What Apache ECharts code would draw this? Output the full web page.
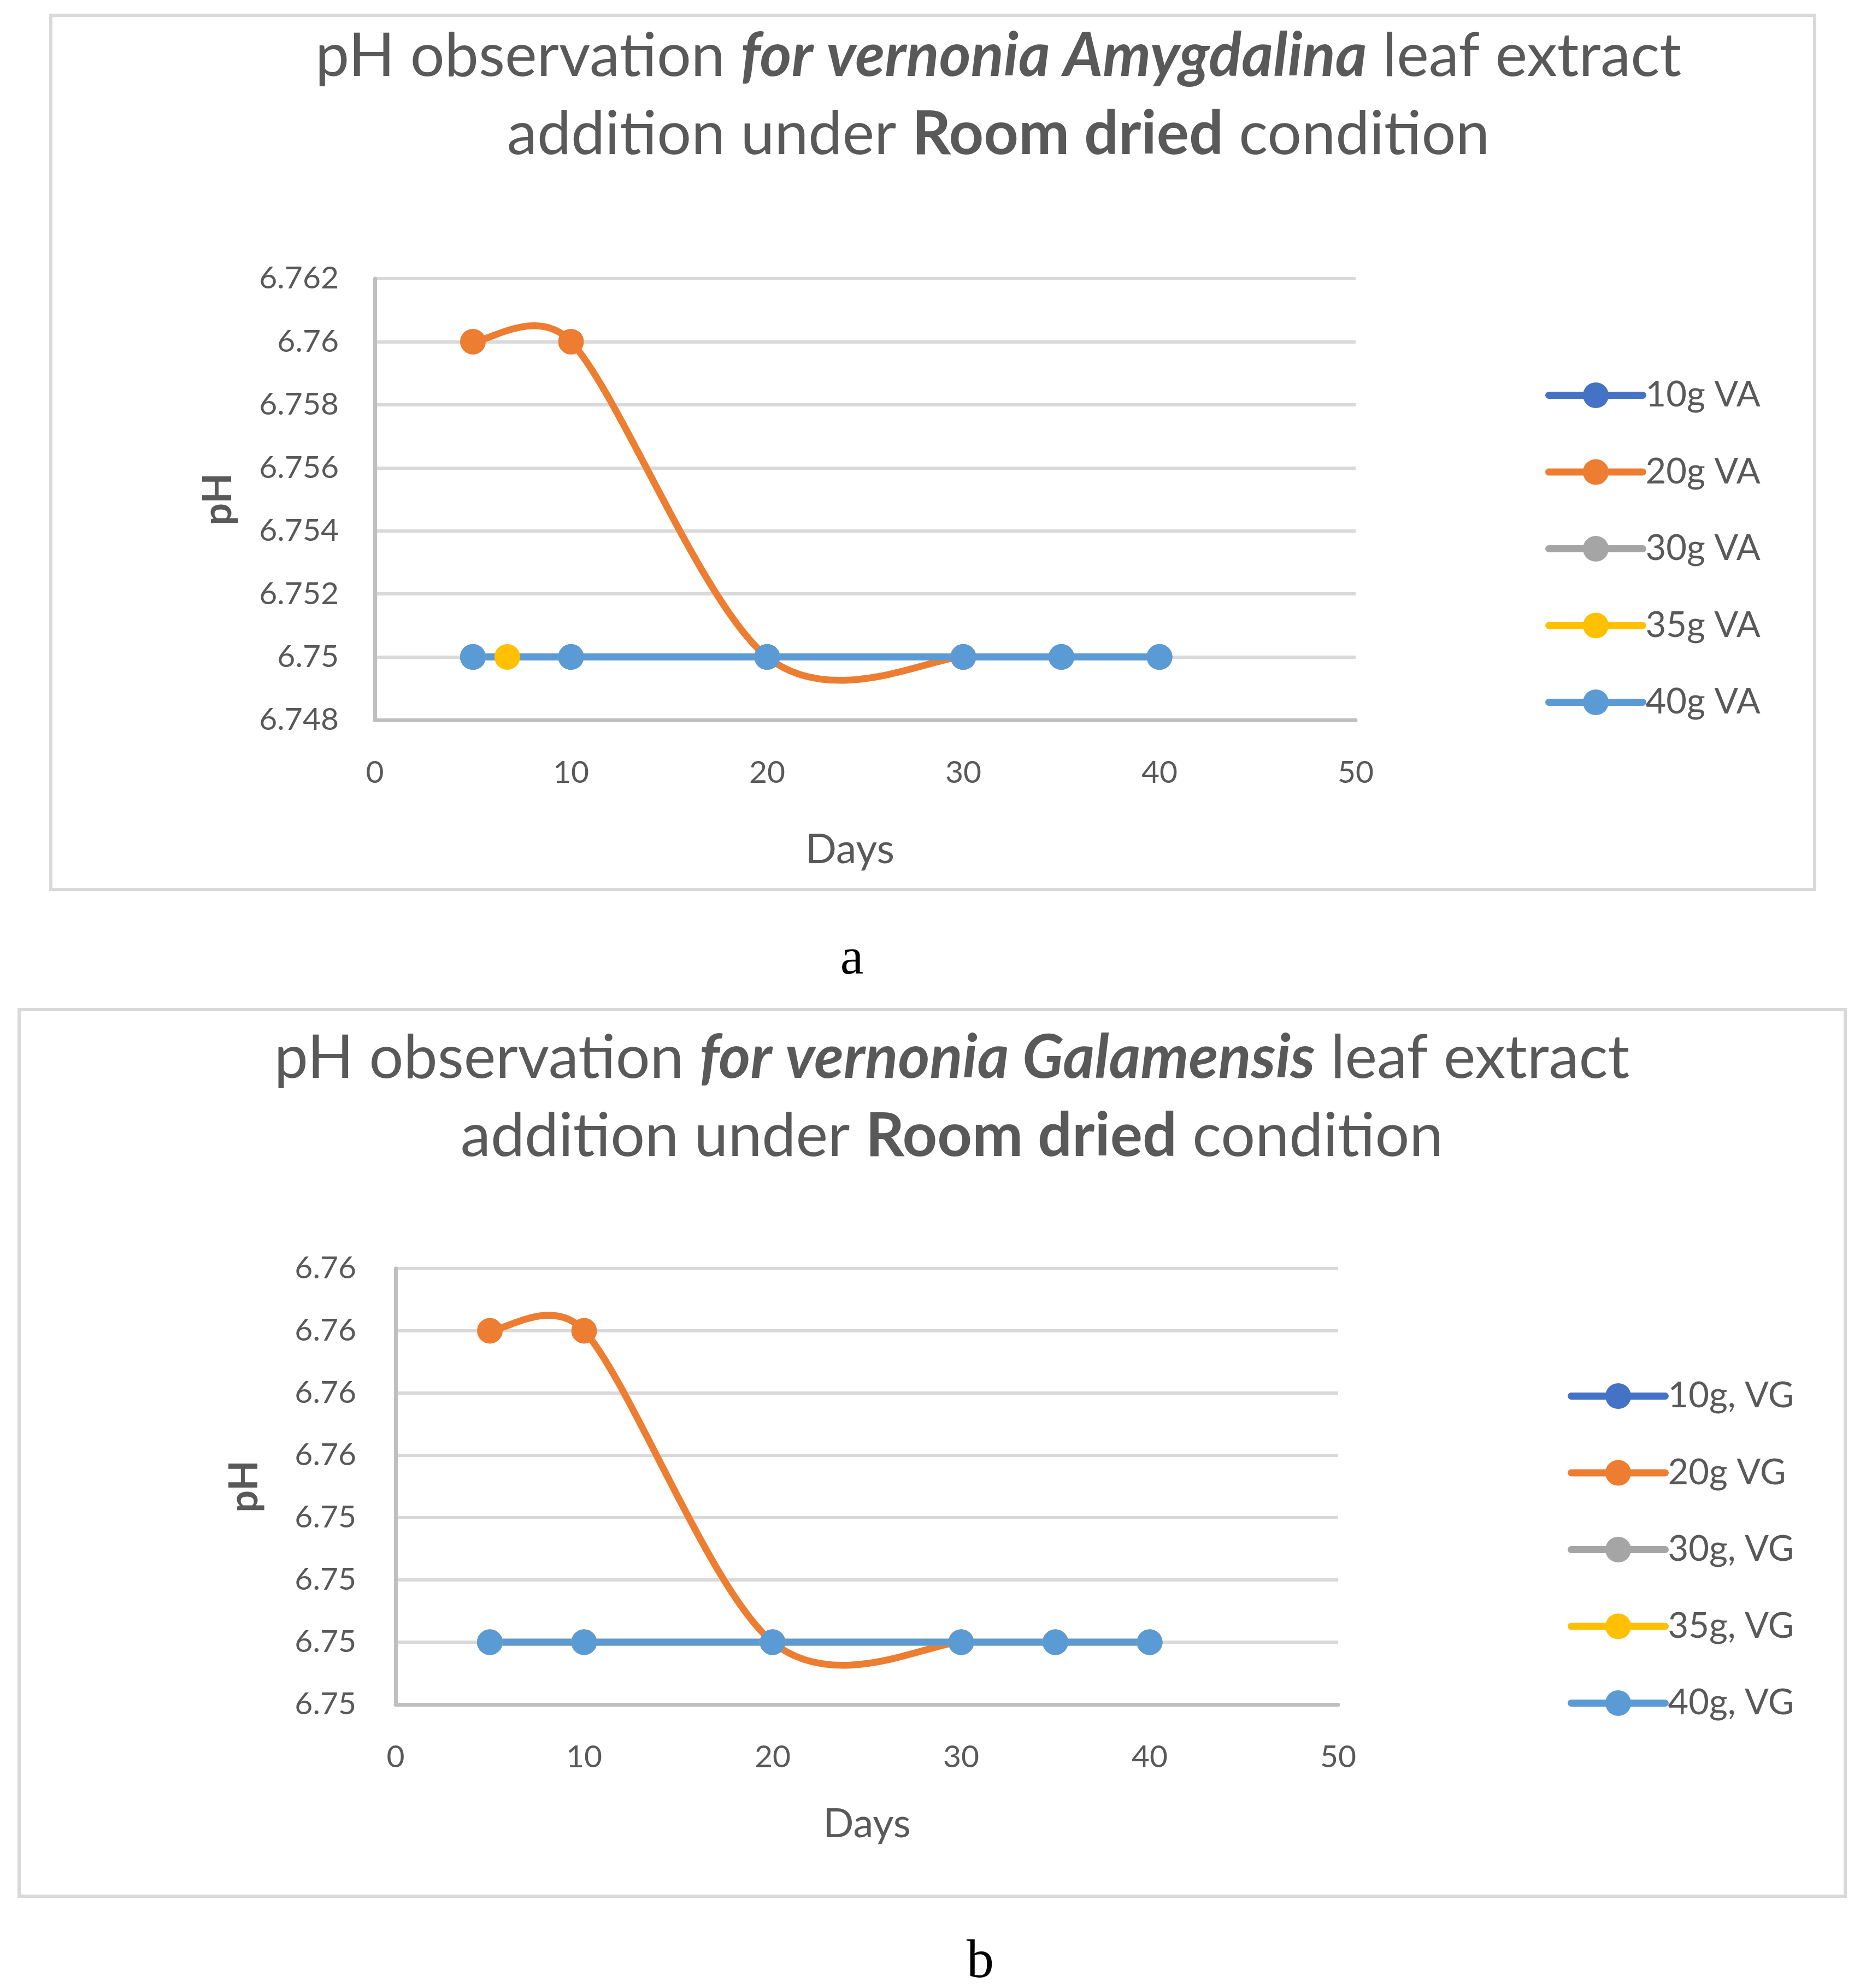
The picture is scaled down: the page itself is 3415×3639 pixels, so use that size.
<!DOCTYPE html>
<html>
<head>
<meta charset="utf-8">
<script src="https://cdn.jsdelivr.net/npm/echarts@6/dist/echarts.min.js"></script>
<style>
html,body{margin:0;padding:0;background:#fff;}
#c{width:3415px;height:3639px;}
</style>
</head>
<body>
<div id="c"></div>
<script>
// ---------- data ----------
const xTicks = [0, 10, 20, 30, 40, 50];
// Chart a: Vernonia Amygdalina
const namesA = ['10g VA', '20g VA', '30g VA', '35g VA', '40g VA'];
const days10A = [5, 10, 20, 30, 35, 40];
const ph10A   = [6.75, 6.75, 6.75, 6.75, 6.75, 6.75];
const days20A = [5, 10, 20, 30];
const ph20A   = [6.76, 6.76, 6.75, 6.75];
const days30A = [5, 10, 20, 30, 35, 40];
const ph30A   = [6.75, 6.75, 6.75, 6.75, 6.75, 6.75];
const days35A = [6.75];
const ph35A   = [6.75];
const days40A = [5, 10, 20, 30, 35, 40];
const ph40A   = [6.75, 6.75, 6.75, 6.75, 6.75, 6.75];
// Chart b: Vernonia Galamensis
const namesB = ['10g, VG', '20g VG', '30g, VG', '35g, VG', '40g, VG'];
const days10B = [5, 10, 20, 30, 35, 40];
const ph10B   = [6.75, 6.75, 6.75, 6.75, 6.75, 6.75];
const days20B = [5, 10, 20, 30];
const ph20B   = [6.76, 6.76, 6.75, 6.75];
const days30B = [5, 10, 20, 30, 35, 40];
const ph30B   = [6.75, 6.75, 6.75, 6.75, 6.75, 6.75];
const days35B = [5, 10, 20, 30, 35, 40];
const ph35B   = [6.75, 6.75, 6.75, 6.75, 6.75, 6.75];
const days40B = [5, 10, 20, 30, 35, 40];
const ph40B   = [6.75, 6.75, 6.75, 6.75, 6.75, 6.75];
const yMin = 6.748, yMax = 6.762, yStep = 0.002;
const colors = ['#4472C4', '#ED7D31', '#A5A5A5', '#FFC000', '#5B9BD5'];

// ---------- helpers ----------
const FONT = 'Lato';
const TXT = '#595959';
const TENSION = 1 / 6;
function pairs(xs, ys) { return xs.map((x, i) => [x, ys[i]]); }
function dist(a, b) { return Math.hypot(b[0] - a[0], b[1] - a[1]); }

// Excel-style smoothed line (Catmull-Rom Bezier) built in pixel space via api.coord
function smoothCurveSeries(name, xs, ys, gi, color) {
  return {
    type: 'custom', name: name + ' curve', xAxisIndex: gi, yAxisIndex: gi,
    data: pairs(xs, ys), encode: { x: 0, y: 1 }, silent: true,
    renderItem: function (params, api) {
      if (params.dataIndex !== 0) return null;
      const pts = xs.map((x, i) => api.coord([x, ys[i]]));
      const n = pts.length;
      let d = 'M' + pts[0][0] + ' ' + pts[0][1];
      for (let i = 0; i < n - 1; i++) {
        const p1 = pts[i], p2 = pts[i + 1];
        const p0 = i > 0 ? pts[i - 1] : p1;
        const p3 = i + 2 < n ? pts[i + 2] : p2;
        const d12 = dist(p1, p2), d02 = dist(p0, p2), d13 = dist(p1, p3);
        let f1 = TENSION, f2 = TENSION;
        if (d02 * f1 > d12 / 2) f1 = d12 / (2 * d02);
        if (d13 * f2 > d12 / 2) f2 = d12 / (2 * d13);
        const c1 = [p1[0] + (p2[0] - p0[0]) * f1, p1[1] + (p2[1] - p0[1]) * f1];
        const c2 = [p2[0] - (p3[0] - p1[0]) * f2, p2[1] - (p3[1] - p1[1]) * f2];
        d += ' C' + c1[0] + ' ' + c1[1] + ' ' + c2[0] + ' ' + c2[1] + ' ' + p2[0] + ' ' + p2[1];
      }
      return { type: 'path', shape: { pathData: d },
        style: { fill: 'none', stroke: color, lineWidth: 12.5, lineCap: 'round', lineJoin: 'round' } };
    }
  };
}
function mkSeries(names, dataSets, gi) {
  const out = [];
  names.forEach((n, i) => {
    const xs = dataSets[i][0], ys = dataSets[i][1];
    if (i === 1) out.push(smoothCurveSeries(n, xs, ys, gi, colors[i]));
    out.push({
      type: 'line', name: n, xAxisIndex: gi, yAxisIndex: gi,
      data: pairs(xs, ys),
      symbol: 'circle', symbolSize: 47,
      lineStyle: { color: colors[i], width: i === 1 ? 0 : 12.5, cap: 'round' },
      itemStyle: { color: colors[i] },
      emphasis: { disabled: true }
    });
  });
  return out;
}
function xAx(gi, nameGap, shift, fs) {
  return {
    type: 'value', gridIndex: gi, min: 0, max: 50, interval: 10,
    name: 'Days', nameLocation: 'middle', nameGap: nameGap,
    nameTextStyle: { fontFamily: FONT, fontSize: fs, color: TXT, padding: [0, shift, 0, 0] },
    axisLine: { show: true, lineStyle: { color: '#BFBFBF', width: 7 } },
    axisTick: { show: false }, splitLine: { show: false },
    axisLabel: { fontFamily: FONT, fontSize: 57, color: TXT, margin: 68,
      formatter: v => xTicks.includes(v) ? String(v) : '' }
  };
}
function yAx(gi, nameGap, margin, digits) {
  return {
    type: 'value', gridIndex: gi, min: yMin, max: yMax, interval: yStep,
    name: 'pH', nameLocation: 'middle', nameRotate: 90, nameGap: nameGap,
    nameTextStyle: { fontFamily: FONT, fontSize: 72, fontWeight: 'bold', color: TXT },
    axisLine: { show: true, lineStyle: { color: '#BFBFBF', width: 7 } },
    axisTick: { show: false },
    splitLine: { show: true, lineStyle: { color: '#D9D9D9', width: 6 } },
    axisLabel: { fontFamily: FONT, fontSize: 57, color: TXT, margin: margin,
      formatter: v => String(parseFloat(Number(v).toFixed(digits))) }
  };
}
const TS = 111, TLH = 143;
const rich = {
  n:  { fontFamily: FONT, fontSize: TS, color: TXT, fontWeight: 'normal', lineHeight: TLH },
  bi: { fontFamily: FONT, fontSize: TS, color: TXT, fontWeight: 'bold', fontStyle: 'italic', lineHeight: TLH },
  b:  { fontFamily: FONT, fontSize: TS, color: TXT, fontWeight: 'bold', lineHeight: TLH }
};
function legend(names, left, top) {
  return {
    data: names.map(n => ({ name: n })), orient: 'vertical', left: left, top: top,
    itemWidth: 172, itemHeight: 59, itemGap: 75.5,
    lineStyle: { width: 13, cap: 'round' },
    textStyle: { fontFamily: FONT, fontSize: 65, color: TXT },
    selectedMode: false
  };
}

const chart = echarts.init(document.getElementById('c'), null, { renderer: 'canvas' });
chart.setOption({
  animation: false,
  backgroundColor: '#fff',
  title: [
    { text: '{n|pH observation }{bi|for vernonia Amygdalina}{n| leaf extract}\n{n|addition under }{b|Room dried}{n| condition}',
      left: 1822, top: 27, textAlign: 'center', textStyle: { rich: rich, fontSize: TS, lineHeight: TLH } },
    { text: '{n|pH observation }{bi|for vernonia Galamensis}{n| leaf extract}\n{n|addition under }{b|Room dried}{n| condition}',
      left: 1737, top: 1861, textAlign: 'center', textStyle: { rich: rich, fontSize: TS, lineHeight: TLH } }
  ],
  legend: [ legend(namesA, 2823, 686), legend(namesB, 2864, 2518) ],
  grid: [
    { left: 686, top: 510, width: 1795, height: 808 },
    { left: 724, top: 2322, width: 1725, height: 798 }
  ],
  xAxis: [ xAx(0, 200, 56, 75), xAx(1, 182, 0, 74) ],
  yAxis: [ yAx(0, 250, 66, 3), yAx(1, 240, 72, 2) ],
  series: [
    ...mkSeries(namesA, [[days10A, ph10A], [days20A, ph20A], [days30A, ph30A], [days35A, ph35A], [days40A, ph40A]], 0),
    ...mkSeries(namesB, [[days10B, ph10B], [days20B, ph20B], [days30B, ph30B], [days35B, ph35B], [days40B, ph40B]], 1)
  ],
  graphic: [
    { type: 'rect', shape: { x: 93, y: 28, width: 3228, height: 1600 }, style: { fill: 'none', stroke: '#D9D9D9', lineWidth: 6 }, z: -1 },
    { type: 'rect', shape: { x: 35, y: 1848, width: 3342, height: 1623 }, style: { fill: 'none', stroke: '#D9D9D9', lineWidth: 6 }, z: -1 },
    { type: 'text', x: 1559, y: 1757, style: { text: 'a', font: '96px "Liberation Serif"', fill: '#000', textAlign: 'center', textVerticalAlign: 'middle' } },
    { type: 'text', x: 1794, y: 3593, style: { text: 'b', font: '100px "Liberation Serif"', fill: '#000', textAlign: 'center', textVerticalAlign: 'middle' } }
  ]
});
</script>
</body>
</html>
